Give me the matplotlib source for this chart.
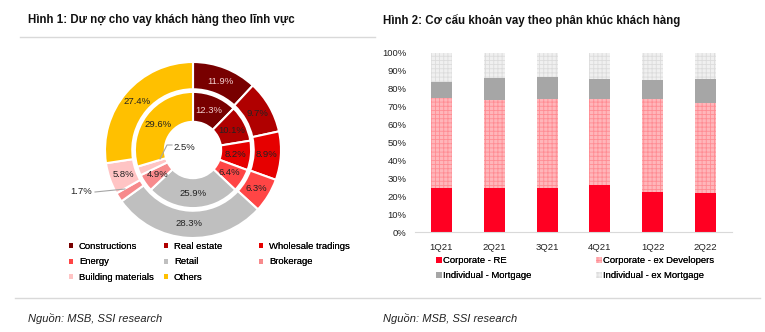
import matplotlib.pyplot as plt
import numpy as np
from matplotlib.lines import Line2D
from matplotlib.patches import Patch

plt.rcParams['font.family'] = ['Liberation Sans', 'DejaVu Sans']
plt.rcParams['hatch.linewidth'] = 0.6

# ---- data: Hinh 1 ----
sectors = ['Constructions', 'Real estate', 'Wholesale tradings', 'Energy',
           'Retail', 'Brokerage', 'Building materials', 'Others']
outer_vals = [11.9, 9.7, 8.9, 6.3, 28.3, 1.7, 5.8, 27.4]
inner_vals = [12.3, 10.1, 8.2, 6.4, 25.9, 4.9, 2.5, 29.6]
sector_colors = ['#780000', '#B00000', '#E60000', '#FF4545',
                 '#BFBFBF', '#F78A8C', '#FFC4C4', '#FFC000']

# ---- data: Hinh 2 ----
quarters = ['1Q21', '2Q21', '3Q21', '4Q21', '1Q22', '2Q22']
corp_re = [24.4, 24.4, 24.4, 26.1, 22.5, 21.6]
corp_ex_dev = [50.6, 49.2, 50.1, 48.0, 51.8, 50.5]
ind_mortgage = [8.6, 12.2, 12.1, 11.4, 10.8, 13.4]
ind_ex_mortgage = [100 - a - b - c for a, b, c in zip(corp_re, corp_ex_dev, ind_mortgage)]

W, H = 765, 332
fig = plt.figure(figsize=(W / 100, H / 100), dpi=100)


def px(x0, y0, w, h):
    # pixel box (top-left origin) -> figure fraction rect
    return [x0 / W, 1 - (y0 + h) / H, w / W, h / H]


# titles and rules
fig.text(28 / W, 1 - 20 / H, 'Hình 1: Dư nợ cho vay khách hàng theo lĩnh vực',
         fontsize=8.3, fontweight='bold', va='center', color='#111111')
fig.text(383 / W, 1 - 20 / H, 'Hình 2: Cơ cấu khoản vay theo phân khúc khách hàng',
         fontsize=8.3, fontweight='bold', va='center', color='#111111')
fig.add_artist(Line2D([20 / W, 375 / W], [1 - 37 / H] * 2, color='#D9D9D9', lw=1))
fig.add_artist(Line2D([15 / W, 760 / W], [1 - 298 / H] * 2, color='#D9D9D9', lw=1))
fig.text(28 / W, 1 - 318 / H, 'Nguồn: MSB, SSI research', fontsize=8,
         style='italic', va='center', color='#222222')
fig.text(383 / W, 1 - 318 / H, 'Nguồn: MSB, SSI research', fontsize=8,
         style='italic', va='center', color='#222222')

# ---- donut ----
ax1 = fig.add_axes(px(105, 62, 176, 176))
wp = dict(edgecolor='white', linewidth=1.5)
ax1.pie(outer_vals, radius=1.0, colors=sector_colors, startangle=90,
        counterclock=False, wedgeprops=dict(width=0.31, **wp))
ax1.pie(inner_vals, radius=0.66, colors=sector_colors, startangle=90,
        counterclock=False, wedgeprops=dict(width=0.34, **wp))
ax1.set_xlim(-1, 1)
ax1.set_ylim(-1, 1)
ax1.set_aspect('equal')


def mid_angles(vals):
    c = np.cumsum([0] + list(vals))
    tot = c[-1]
    return [np.deg2rad(90 - 360 * (c[i] + c[i + 1]) / 2 / tot) for i in range(len(vals))]


label_col = ['#F2D0D0', '#222222', '#222222', '#222222',
             '#222222', '#222222', '#222222', '#222222']
for i, (a, v) in enumerate(zip(mid_angles(outer_vals), outer_vals)):
    if sectors[i] == 'Brokerage':
        continue
    ax1.text(0.84 * np.cos(a), 0.84 * np.sin(a), f'{v}%', ha='center', va='center',
             fontsize=6.8, color=label_col[i])
for i, (a, v) in enumerate(zip(mid_angles(inner_vals), inner_vals)):
    if sectors[i] == 'Building materials':
        continue
    ax1.text(0.49 * np.cos(a), 0.49 * np.sin(a), f'{v}%', ha='center', va='center',
             fontsize=6.8, color=label_col[i])

# leader-line labels for the thin slices
fig.text(81 / W, 1 - 192 / H, f'{outer_vals[5]}%', fontsize=6.8, ha='center',
         va='center', color='#222222')
fig.add_artist(Line2D([95 / W, 125 / W], [1 - 192 / H, 1 - 189 / H], color='#A6A6A6', lw=0.8))
fig.text(184 / W, 1 - 148 / H, f'{inner_vals[6]}%', fontsize=6.8, ha='center',
         va='center', color='#222222')
fig.add_artist(Line2D([172 / W, 167 / W, 160 / W], [1 - 145 / H, 1 - 145 / H, 1 - 159 / H],
                      color='#A6A6A6', lw=0.8))

# pie legend: three columns placed at fixed x positions
handles1 = [Patch(facecolor=c, edgecolor='none') for c in sector_colors]
col_x = [69, 164, 259]
cols = [[0, 3, 6], [1, 4, 7], [2, 5]]
for cx, idx in zip(col_x, cols):
    lg = fig.legend([handles1[i] for i in idx], [sectors[i] for i in idx],
                    loc='upper left', bbox_to_anchor=(cx / W, 1 - 242 / H),
                    frameon=False, fontsize=6.8, handlelength=0.45, handleheight=0.45,
                    handletextpad=0.6, labelspacing=0.68, borderpad=0, borderaxespad=0)
    fig.add_artist(lg)

# ---- stacked bars ----
ax2 = fig.add_axes(px(415, 53, 317, 179))
x = np.arange(len(quarters))
bw = 0.4
h_re = ax2.bar(x, corp_re, bw, color='#FF0022')
b = np.array(corp_re)
h_ex = ax2.bar(x, corp_ex_dev, bw, bottom=b, color='#FFB6BA', edgecolor='#FF8C93',
               hatch='++++', linewidth=0)
b = b + np.array(corp_ex_dev)
h_mo = ax2.bar(x, ind_mortgage, bw, bottom=b, color='#A6A6A6')
b = b + np.array(ind_mortgage)
h_em = ax2.bar(x, ind_ex_mortgage, bw, bottom=b, color='#F0F0F0', edgecolor='#DCDCDC',
               hatch='++++', linewidth=0)

ax2.set_xlim(-0.5, len(quarters) - 0.5)
ax2.set_ylim(0, 100)
ax2.set_yticks(np.arange(0, 101, 10))
ax2.set_yticklabels([f'{v}%' for v in range(0, 101, 10)], fontsize=6.8, color='#222222')
ax2.set_xticks(x)
ax2.set_xticklabels(quarters, fontsize=6.8, color='#222222')
for s in ['top', 'right', 'left']:
    ax2.spines[s].set_visible(False)
ax2.spines['bottom'].set_color('#D9D9D9')
ax2.tick_params(axis='x', length=0, pad=8)
ax2.tick_params(axis='y', length=0, pad=6)

bar_cols = [(436, [h_re, h_mo], ['Corporate - RE', 'Individual - Mortgage']),
            (596, [h_ex, h_em], ['Corporate - ex Developers', 'Individual - ex Mortgage'])]
for cx, hs, labs in bar_cols:
    lg = fig.legend(hs, labs, loc='upper left', bbox_to_anchor=(cx / W, 1 - 256 / H),
                    frameon=False, fontsize=6.8, handlelength=0.6, handleheight=0.6,
                    handletextpad=0.15, labelspacing=0.68, borderpad=0, borderaxespad=0)
    fig.add_artist(lg)

fig.savefig('out.png', dpi=100)
